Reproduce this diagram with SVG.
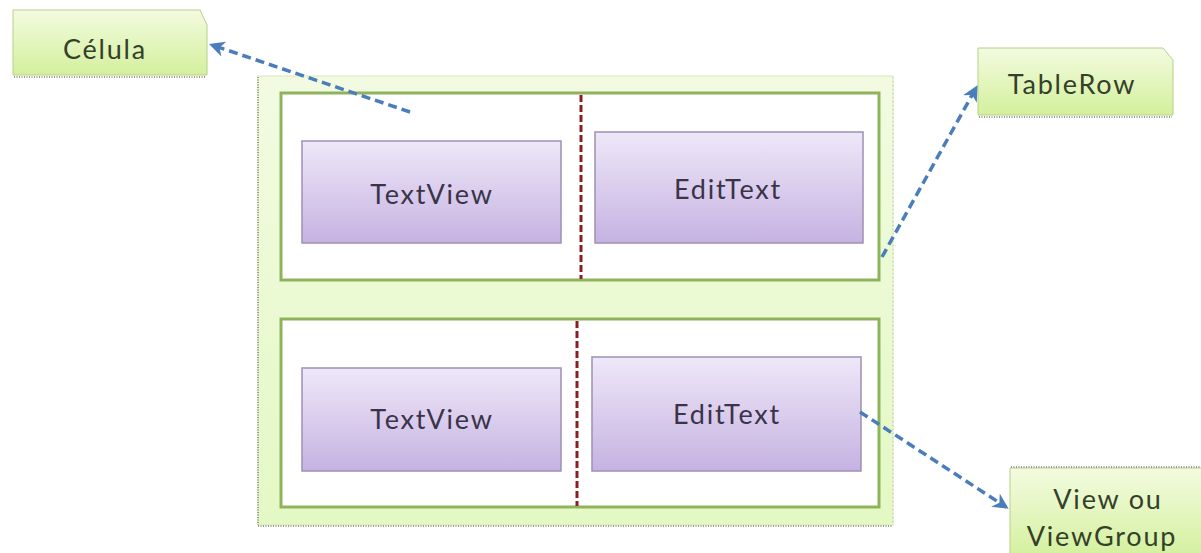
<svg xmlns="http://www.w3.org/2000/svg" width="1201" height="553" viewBox="0 0 1201 553">
<defs>
<linearGradient id="gGreen" x1="0" y1="0" x2="0" y2="1">
<stop offset="0" stop-color="#f3fbe0"/>
<stop offset="1" stop-color="#d3f09c"/>
</linearGradient>
<linearGradient id="gPurple" x1="0" y1="0" x2="0" y2="1">
<stop offset="0" stop-color="#eee8f8"/>
<stop offset="1" stop-color="#c6b2e2"/>
</linearGradient>
<linearGradient id="gOuter" x1="0" y1="0" x2="0" y2="1">
<stop offset="0" stop-color="#f2fbe2"/>
<stop offset="1" stop-color="#e4f8c4"/>
</linearGradient>
<marker id="arr" viewBox="0 0 10 10" refX="8" refY="5" markerWidth="4.5" markerHeight="4.5" orient="auto" markerUnits="strokeWidth">
<path d="M0,0 L10,5 L0,10 L3,5 Z" fill="#4a7ebb"/>
</marker>
</defs>
<style>
.note{fill:url(#gGreen);stroke:#b8cf88;stroke-width:1}
.shadow{fill:none;stroke:#9a9a8a;stroke-width:2;stroke-dasharray:1 1.5}
.row{fill:#ffffff;stroke:#8fb35a;stroke-width:3}
.view{fill:url(#gPurple);stroke:#9d90b5;stroke-width:1.5}
.div{stroke:#8b1e22;stroke-width:3;stroke-dasharray:7 3}
.conn{fill:none;stroke:#4a7ebb;stroke-width:3.5;stroke-dasharray:9 5;marker-end:url(#arr)}
.lbl{font-family:Lato,"Open Sans",sans-serif;font-size:27px;letter-spacing:1.8px;text-anchor:middle}
.lg{fill:#34402a}
.lp{fill:#3a3448}
</style>
<rect width="1201" height="553" fill="#ffffff"/>

<g id="table">
<rect x="258" y="76" width="635" height="449" fill="url(#gOuter)" stroke="#d8e8b8" stroke-width="1"/>
<line x1="258" y1="77" x2="258" y2="525" class="shadow"/>
<line x1="258" y1="526" x2="893" y2="526" class="shadow"/>
<line x1="893" y1="77" x2="893" y2="525" stroke="#c8d8a8" stroke-width="1.5" stroke-dasharray="1 3"/>
</g>

<g id="row1">
<rect x="281" y="93" width="598" height="187" class="row"/>
<line x1="581" y1="95" x2="581" y2="279" class="div"/>
</g>
<g id="row2">
<rect x="281" y="319" width="598" height="188" class="row"/>
<line x1="577" y1="321" x2="577" y2="506" class="div"/>
</g>

<g id="textview1">
<rect x="302" y="141" width="259" height="102" class="view"/>
<text x="432" y="204" class="lbl lp">TextView</text>
</g>
<g id="edittext1">
<rect x="595" y="132" width="268" height="111" class="view"/>
<text x="728" y="199" class="lbl lp">EditText</text>
</g>
<g id="textview2">
<rect x="302" y="368" width="259" height="103" class="view"/>
<text x="432" y="429" class="lbl lp">TextView</text>
</g>
<g id="edittext2">
<rect x="592" y="357" width="269" height="114" class="view"/>
<text x="727" y="424" class="lbl lp">EditText</text>
</g>

<g id="celula">
<path d="M13,10 H200 L207,25 V75 H13 Z" class="note"/>
<line x1="14" y1="77" x2="206" y2="77" class="shadow"/>
<text x="105" y="59" class="lbl lg">Célula</text>
</g>

<g id="tablerow">
<path d="M978,48 H1163 L1173,60 V115 H978 Z" class="note"/>
<line x1="979" y1="117" x2="1172" y2="117" class="shadow"/>
<text x="1072" y="94" class="lbl lg">TableRow</text>
</g>

<g id="viewgroup">
<path d="M1010,468 H1205 V560 H1010 Z" class="note"/>
<line x1="1011" y1="467" x2="1201" y2="467" class="shadow"/>
<text x="1108" y="509" class="lbl lg">View ou</text>
<text x="1102" y="546" class="lbl lg">ViewGroup</text>
</g>

<g id="connectors">
<path d="M410,112 L212,45" class="conn"/>
<path d="M882,257 L976,88" class="conn"/>
<path d="M860,412 L1006,507" class="conn"/>
</g>
</svg>
